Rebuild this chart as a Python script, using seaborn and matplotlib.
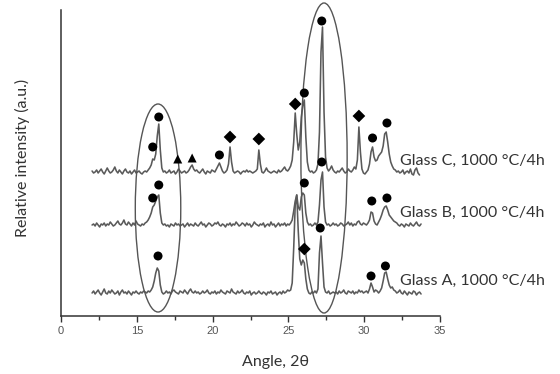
import numpy as np
import pandas as pd
import matplotlib
matplotlib.use("Agg")
import matplotlib.pyplot as plt
from matplotlib.patches import Ellipse
import seaborn as sns

# ---------------- data ----------------
# angle grid: 2-theta from 12.05 in steps of 0.1 deg
ANGLE_START = 12.05
ANGLE_STEP = 0.1

# intensity above each trace's own baseline (a.u.)
glass_c = [
    1, -1, 0, 2, -1, 1, 3, 0, -2, 1,
    4, 1, -1, 0, 2, 5, 1, -1, 2, 0,
    -2, 1, 3, 0, -1, 1, -2, 0, 2, -1,
    0, 1, -1, -2, 0, 1, 0, 2, 4, 7,
    13, 12, 18, 36, 48, 22, 4, 0, 1, -1,
    0, 2, -1, 0, 1, -2, 0, 3, 1, -1,
    0, 1, -1, 0, 2, 5, 7, 3, 1, 2,
    0, -1, 1, 3, 0, -2, 1, 0, -1, 2,
    1, 0, 3, 6, 9, 5, 1, -1, 0, 2,
    8, 25, 10, 1, -1, 0, 1, 0, -2, 0,
    1, 0, 2, 0, 1, 0, -1, 0, 1, 3,
    22, 8, 0, -1, 1, 4, 1, 0, -1, 0,
    1, 0, -1, 2, 0, 1, 3, 5, 2, 1,
    3, 6, 12, 30, 59, 38, 22, 30, 55, 66,
    72, 35, 10, 2, 0, 1, -1, 0, 2, 8,
    40, 120, 145, 60, 15, 4, 1, 3, 6, 2,
    0, -1, 1, 0, 2, 4, 1, -1, 0, 3,
    1, 0, 2, 5, 3, 12, 45, 20, 3, -1,
    -2, 0, 2, 8, 20, 25, 15, 11, 12, 16,
    18, 20, 26, 38, 40, 30, 18, 10, 6, 3,
    2, 0, 1, -1, 0, 2, -2, 0, 1, -1,
    3, -2, -3, 2, 4, -1, -3,
]
glass_b = [
    0, 1, -1, 2, 0, -2, 1, 0, 2, -1,
    1, 0, 3, 1, -1, 0, 2, 4, 1, 0,
    2, 5, 1, 0, 3, 1, -1, 2, 0, 4,
    1, 0, -1, 1, 0, 2, 3, 5, 8, 12,
    18, 20, 24, 28, 30, 12, 2, 0, 1, -1,
    0, -2, 1, 0, -1, 2, 0, 1, -1, 0,
    1, -2, 0, 2, -1, 1, 0, -1, 2, 0,
    -1, 1, 3, 0, 1, -2, 0, 2, 1, -1,
    0, 2, 1, 3, 0, -1, 1, 0, -2, 1,
    0, 2, -1, 1, 0, 3, 1, -1, 0, 2,
    1, -1, 2, 0, 1, -2, 0, 3, 1, 0,
    -1, 1, 0, 2, -2, 0, 1, -1, 3, 0,
    1, -2, 0, 2, -1, 1, 0, 2, -1, 1,
    0, 2, 5, 14, 24, 30, 18, 15, 28, 32,
    30, 12, 3, 0, 1, -1, 0, 2, 0, 3,
    20, 45, 53, 18, 3, 0, 1, -1, 0, 2,
    0, 1, -1, 0, 2, 1, -1, 0, 1, 3,
    0, 2, -1, 1, 0, 3, 4, 1, 0, 2,
    1, 0, 2, 5, 13, 12, 4, 1, 0, 3,
    6, 10, 15, 18, 19, 15, 10, 8, 6, 4,
    3, 2, 0, -1, 1, 0, -2, 1, 0, -1,
    2, 0, -1, 1, 3, 0, -1, 1,
]
glass_a = [
    0, 2, -1, 1, 3, 0, -2, 1, 4, 0,
    -1, 2, 0, 3, 1, -1, 0, 2, -2, 1,
    3, 0, 1, -1, 2, 0, -2, 1, 0, 2,
    0, -1, 1, 0, 2, 1, 0, 2, 1, 3,
    6, 12, 20, 25, 22, 8, 1, -1, 0, 2,
    0, 1, -1, 2, 3, 1, 0, -1, 2, 1,
    0, 3, 1, -1, 2, 4, 1, 0, 2, 0,
    1, -1, 0, 2, 0, 1, 3, 0, -1, 1,
    0, 2, -1, 1, 0, 3, 1, 0, -1, 2,
    1, 0, 4, 1, 0, -1, 2, 0, 1, 3,
    0, -1, 1, 0, 2, -2, 0, 1, -1, 0,
    2, 0, -1, 1, 0, -2, 1, 0, 2, -1,
    0, 1, -2, 0, 1, -1, 2, 0, 1, 3,
    2, 3, 10, 45, 88, 98, 62, 34, 28, 33,
    30, 14, 4, 0, -1, 1, 0, 2, 0, 4,
    40, 57, 30, 6, 1, 0, 2, -1, 0, 1,
    0, 1, -1, 2, 0, 1, 3, 0, -1, 2,
    1, 0, 2, -1, 1, 0, 3, 1, 2, 0,
    1, 2, 0, 4, 10, 6, 1, 3, 2, 0,
    2, 5, 12, 20, 21, 14, 8, 5, 6, 3,
    2, 0, 1, 3, 0, -1, 2, 0, -2, 1,
    0, -1, 2, 1, -2, 0, 1, -1,
]
trace_names = ["Glass C", "Glass B", "Glass A"]
trace_offsets = [144, 91, 23]          # vertical stacking offsets (a.u.)
trace_labels = ["Glass C, 1000 \u00b0C/4h", "Glass B, 1000 \u00b0C/4h",
                "Glass A, 1000 \u00b0C/4h"]
label_y = [155, 103, 35]

# phase markers: angle, intensity (stacked), phase
mark_angle = [16.05, 16.45, 17.7, 18.65, 20.45, 21.15, 23.05, 25.45, 26.05, 27.2, 29.65, 30.55, 31.5,
              16.05, 16.45, 26.05, 27.2, 30.5, 31.5,
              16.4, 26.05, 27.1, 30.45, 31.4]
mark_int = [169, 199, 157, 158, 161, 179, 177, 212, 223, 295, 200, 178, 193,
            118, 131, 133, 154, 115, 118,
            60, 67, 88, 40, 50]
mark_phase = ["circle", "circle", "triangle", "triangle", "circle", "diamond", "diamond",
              "diamond", "circle", "circle", "diamond", "circle", "circle",
              "circle", "circle", "circle", "circle", "circle", "circle",
              "circle", "diamond", "circle", "circle", "circle"]

# highlighted regions (ellipses): centre angle, centre intensity, width, height
ell_angle = [16.4, 27.35]
ell_int = [108, 158]
ell_w = [3.0, 3.05]
ell_h = [208, 310]

x_ticks = [10, 15, 20, 25, 30, 35]
x_ticklabels = ["0", "15", "20", "25", "30", "35"]

# ---------------- build long table ----------------
rows = []
for name, vals, off in zip(trace_names, [glass_c, glass_b, glass_a], trace_offsets):
    for i, v in enumerate(vals):
        rows.append((name, round(ANGLE_START + i * ANGLE_STEP, 2), v + off))
df = pd.DataFrame(rows, columns=["trace", "angle", "intensity"])
mk = pd.DataFrame({"angle": mark_angle, "intensity": mark_int, "phase": mark_phase})

# ---------------- plot ----------------
sns.set_style("white")
plt.rcParams["font.family"] = ["Lato", "DejaVu Sans"]

fig = plt.figure(figsize=(5.6, 3.74), dpi=100)
ax = fig.add_axes([61 / 560, 1 - 316 / 374, 379 / 560, 306 / 374])

for name in trace_names:
    sub = df[df["trace"] == name]
    sns.lineplot(data=sub, x="angle", y="intensity", ax=ax, color="#5a5a5a",
                 lw=1.15, estimator=None, sort=False)

sns.scatterplot(data=mk, x="angle", y="intensity", style="phase",
                markers={"circle": "o", "diamond": "D", "triangle": "^"},
                s=42, color="black", edgecolor="none", ax=ax, legend=False,
                clip_on=False, zorder=5)

for ca, ci, w, h in zip(ell_angle, ell_int, ell_w, ell_h):
    ax.add_patch(Ellipse((ca, ci), w, h, fill=False, edgecolor="#555555",
                         lw=1.0, clip_on=False, zorder=4))

for lab, ly in zip(trace_labels, label_y):
    ax.text(32.38, ly, lab, fontsize=11.5, color="#333333", va="center",
            ha="left", clip_on=False)

ax.set_xlim(10, 35)
ax.set_ylim(0, 306)
ax.set_xticks(x_ticks)
ax.set_xticklabels(x_ticklabels, family="Liberation Sans", fontsize=8, color="#555555")
ax.set_xticks([12.5, 17.5, 22.5, 27.5, 32.5], minor=True)
ax.tick_params(axis="x", which="major", direction="out", length=4, width=1,
               color="#333333", pad=3, bottom=True)
ax.tick_params(axis="x", which="minor", direction="out", length=3, width=1,
               color="#333333", bottom=True)
ax.set_yticks([])
for s in ["top", "right"]:
    ax.spines[s].set_visible(False)
for s in ["left", "bottom"]:
    ax.spines[s].set_color("#333333")
    ax.spines[s].set_linewidth(1.1)

ax.set_xlabel("Angle, 2\u03b8", fontsize=11.5, color="#333333")
ax.xaxis.set_label_coords((276 - 61) / 379, -(362 - 316) / 306)
ax.xaxis.label.set_va("center")
ax.set_ylabel("Relative intensity (a.u.)", fontsize=11.5, color="#333333")
ax.yaxis.set_label_coords((22 - 61) / 379, (316 - 158) / 306)
ax.yaxis.label.set_va("center")

fig.savefig("out.png", dpi=100)
